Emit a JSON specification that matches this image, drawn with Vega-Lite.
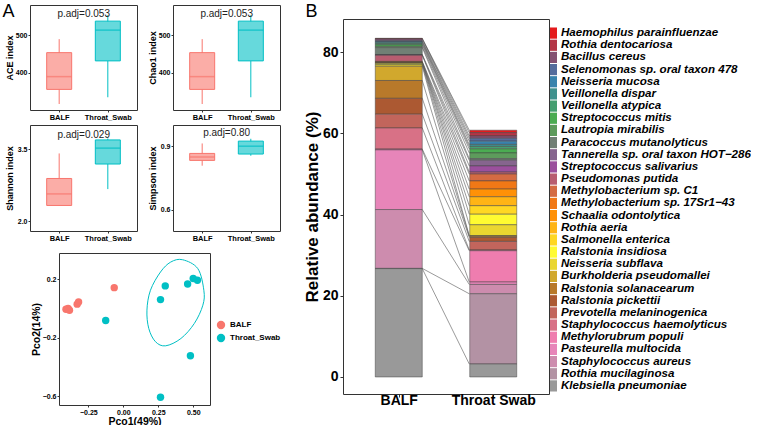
{
  "$schema": "https://vega.github.io/schema/vega-lite/v6.json",
  "padding": {"left": 1, "top": 1, "right": 0, "bottom": 0},
  "spacing": 21,
  "resolve": {"scale": {"fill": "independent", "color": "independent", "stroke": "independent"}, "legend": {"fill": "independent", "color": "independent"}},
  "config": {
    "font": "Liberation Sans",
    "view": {"stroke": "#333", "strokeWidth": 1},
    "axis": {"grid": false, "domain": false, "labelFontWeight": "bold", "titleFontWeight": "bold", "labelColor": "#000", "titleColor": "#000", "tickColor": "#333"},
    "legend": {"labelColor": "#000"},
    "title": {"color": "#000"}
  },
  "datasets": {
    "box": [
      {"metric": "ACE", "group": "BALF", "lower": 316, "q1": 355, "median": 389, "q3": 453, "upper": 489},
      {"metric": "ACE", "group": "Throat_Swab", "lower": 334, "q1": 431, "median": 513, "q3": 537, "upper": 553},
      {"metric": "Chao1", "group": "BALF", "lower": 316, "q1": 355, "median": 389, "q3": 453, "upper": 489},
      {"metric": "Chao1", "group": "Throat_Swab", "lower": 334, "q1": 431, "median": 513, "q3": 537, "upper": 553},
      {"metric": "Shannon", "group": "BALF", "lower": 2.33, "q1": 2.33, "median": 2.57, "q3": 2.89, "upper": 3.41},
      {"metric": "Shannon", "group": "Throat_Swab", "lower": 2.67, "q1": 3.19, "median": 3.52, "q3": 3.69, "upper": 3.72},
      {"metric": "Simpson", "group": "BALF", "lower": 0.808, "q1": 0.833, "median": 0.849, "q3": 0.866, "upper": 0.913},
      {"metric": "Simpson", "group": "Throat_Swab", "lower": 0.855, "q1": 0.863, "median": 0.9, "q3": 0.924, "upper": 0.935}
    ],
    "pcoa": [
      {"group": "BALF", "pco1": -0.41, "pco2": -0.005},
      {"group": "BALF", "pco1": -0.395, "pco2": 0.0},
      {"group": "BALF", "pco1": -0.385, "pco2": -0.012},
      {"group": "BALF", "pco1": -0.33, "pco2": 0.03},
      {"group": "BALF", "pco1": -0.32, "pco2": 0.045},
      {"group": "BALF", "pco1": -0.065, "pco2": 0.143},
      {"group": "Throat_Swab", "pco1": -0.126, "pco2": -0.082},
      {"group": "Throat_Swab", "pco1": 0.266, "pco2": 0.061},
      {"group": "Throat_Swab", "pco1": 0.3, "pco2": 0.155},
      {"group": "Throat_Swab", "pco1": 0.46, "pco2": 0.168},
      {"group": "Throat_Swab", "pco1": 0.5, "pco2": 0.205},
      {"group": "Throat_Swab", "pco1": 0.53, "pco2": 0.193},
      {"group": "Throat_Swab", "pco1": 0.48, "pco2": -0.323},
      {"group": "Throat_Swab", "pco1": 0.266, "pco2": -0.607}
    ],
    "ellipse": [
      {"i": 1, "pco1": 0.424, "pco2": 0.334},
      {"i": 2, "pco1": 0.533, "pco2": 0.273},
      {"i": 3, "pco1": 0.576, "pco2": 0.125},
      {"i": 4, "pco1": 0.569, "pco2": 0.023},
      {"i": 5, "pco1": 0.508, "pco2": -0.102},
      {"i": 6, "pco1": 0.412, "pco2": -0.205},
      {"i": 7, "pco1": 0.303, "pco2": -0.255},
      {"i": 8, "pco1": 0.23, "pco2": -0.227},
      {"i": 9, "pco1": 0.182, "pco2": -0.136},
      {"i": 10, "pco1": 0.169, "pco2": -0.011},
      {"i": 11, "pco1": 0.194, "pco2": 0.125},
      {"i": 12, "pco1": 0.266, "pco2": 0.25},
      {"i": 13, "pco1": 0.339, "pco2": 0.318}
    ],
    "species": [
      {"species": "Haemophilus parainfluenzae"}, {"species": "Rothia dentocariosa"}, {"species": "Bacillus cereus"}, {"species": "Selenomonas sp. oral taxon 478"}, {"species": "Neisseria mucosa"}, {"species": "Veillonella dispar"}, {"species": "Veillonella atypica"}, {"species": "Streptococcus mitis"}, {"species": "Lautropia mirabilis"}, {"species": "Paracoccus mutanolyticus"}, {"species": "Tannerella sp. oral taxon HOT−286"}, {"species": "Streptococcus salivarius"}, {"species": "Pseudomonas putida"}, {"species": "Methylobacterium sp. C1"}, {"species": "Methylobacterium sp. 17Sr1−43"}, {"species": "Schaalia odontolytica"}, {"species": "Rothia aeria"}, {"species": "Salmonella enterica"}, {"species": "Ralstonia insidiosa"}, {"species": "Neisseria subflava"}, {"species": "Burkholderia pseudomallei"}, {"species": "Ralstonia solanacearum"}, {"species": "Ralstonia pickettii"}, {"species": "Prevotella melaninogenica"}, {"species": "Staphylococcus haemolyticus"}, {"species": "Methylorubrum populi"}, {"species": "Pasteurella multocida"}, {"species": "Staphylococcus aureus"}, {"species": "Rothia mucilaginosa"}, {"species": "Klebsiella pneumoniae"}
    ],
    "abund": [
      {"species": "Haemophilus parainfluenzae", "idx": 0, "sample": "BALF", "value": 0.1},
      {"species": "Rothia dentocariosa", "idx": 1, "sample": "BALF", "value": 0.1},
      {"species": "Bacillus cereus", "idx": 2, "sample": "BALF", "value": 0.4},
      {"species": "Selenomonas sp. oral taxon 478", "idx": 3, "sample": "BALF", "value": 0.2},
      {"species": "Neisseria mucosa", "idx": 4, "sample": "BALF", "value": 0.2},
      {"species": "Veillonella dispar", "idx": 5, "sample": "BALF", "value": 0.3},
      {"species": "Veillonella atypica", "idx": 6, "sample": "BALF", "value": 0.3},
      {"species": "Streptococcus mitis", "idx": 7, "sample": "BALF", "value": 0.4},
      {"species": "Lautropia mirabilis", "idx": 8, "sample": "BALF", "value": 0.3},
      {"species": "Paracoccus mutanolyticus", "idx": 9, "sample": "BALF", "value": 1.7},
      {"species": "Tannerella sp. oral taxon HOT−286", "idx": 10, "sample": "BALF", "value": 0.1},
      {"species": "Streptococcus salivarius", "idx": 11, "sample": "BALF", "value": 0.1},
      {"species": "Pseudomonas putida", "idx": 12, "sample": "BALF", "value": 1.5},
      {"species": "Methylobacterium sp. C1", "idx": 13, "sample": "BALF", "value": 0.1},
      {"species": "Methylobacterium sp. 17Sr1−43", "idx": 14, "sample": "BALF", "value": 0.1},
      {"species": "Schaalia odontolytica", "idx": 15, "sample": "BALF", "value": 0.1},
      {"species": "Rothia aeria", "idx": 16, "sample": "BALF", "value": 0.1},
      {"species": "Salmonella enterica", "idx": 17, "sample": "BALF", "value": 0.1},
      {"species": "Ralstonia insidiosa", "idx": 18, "sample": "BALF", "value": 0.3},
      {"species": "Neisseria subflava", "idx": 19, "sample": "BALF", "value": 0.4},
      {"species": "Burkholderia pseudomallei", "idx": 20, "sample": "BALF", "value": 3.5},
      {"species": "Ralstonia solanacearum", "idx": 21, "sample": "BALF", "value": 4.4},
      {"species": "Ralstonia pickettii", "idx": 22, "sample": "BALF", "value": 3.9},
      {"species": "Prevotella melaninogenica", "idx": 23, "sample": "BALF", "value": 3.4},
      {"species": "Staphylococcus haemolyticus", "idx": 24, "sample": "BALF", "value": 5.2},
      {"species": "Methylorubrum populi", "idx": 25, "sample": "BALF", "value": 0.2},
      {"species": "Pasteurella multocida", "idx": 26, "sample": "BALF", "value": 14.7},
      {"species": "Staphylococcus aureus", "idx": 27, "sample": "BALF", "value": 14.5},
      {"species": "Rothia mucilaginosa", "idx": 28, "sample": "BALF", "value": 0.05},
      {"species": "Klebsiella pneumoniae", "idx": 29, "sample": "BALF", "value": 26.7},
      {"species": "Haemophilus parainfluenzae", "idx": 0, "sample": "Throat Swab", "value": 0.6},
      {"species": "Rothia dentocariosa", "idx": 1, "sample": "Throat Swab", "value": 0.8},
      {"species": "Bacillus cereus", "idx": 2, "sample": "Throat Swab", "value": 0.6},
      {"species": "Selenomonas sp. oral taxon 478", "idx": 3, "sample": "Throat Swab", "value": 0.7},
      {"species": "Neisseria mucosa", "idx": 4, "sample": "Throat Swab", "value": 0.8},
      {"species": "Veillonella dispar", "idx": 5, "sample": "Throat Swab", "value": 0.5},
      {"species": "Veillonella atypica", "idx": 6, "sample": "Throat Swab", "value": 0.6},
      {"species": "Streptococcus mitis", "idx": 7, "sample": "Throat Swab", "value": 1.0},
      {"species": "Lautropia mirabilis", "idx": 8, "sample": "Throat Swab", "value": 1.4},
      {"species": "Paracoccus mutanolyticus", "idx": 9, "sample": "Throat Swab", "value": 0.4},
      {"species": "Tannerella sp. oral taxon HOT−286", "idx": 10, "sample": "Throat Swab", "value": 1.4},
      {"species": "Streptococcus salivarius", "idx": 11, "sample": "Throat Swab", "value": 1.5},
      {"species": "Pseudomonas putida", "idx": 12, "sample": "Throat Swab", "value": 0.5},
      {"species": "Methylobacterium sp. C1", "idx": 13, "sample": "Throat Swab", "value": 1.7},
      {"species": "Methylobacterium sp. 17Sr1−43", "idx": 14, "sample": "Throat Swab", "value": 2.0},
      {"species": "Schaalia odontolytica", "idx": 15, "sample": "Throat Swab", "value": 1.9},
      {"species": "Rothia aeria", "idx": 16, "sample": "Throat Swab", "value": 2.2},
      {"species": "Salmonella enterica", "idx": 17, "sample": "Throat Swab", "value": 2.1},
      {"species": "Ralstonia insidiosa", "idx": 18, "sample": "Throat Swab", "value": 2.6},
      {"species": "Neisseria subflava", "idx": 19, "sample": "Throat Swab", "value": 2.7},
      {"species": "Burkholderia pseudomallei", "idx": 20, "sample": "Throat Swab", "value": 0.1},
      {"species": "Ralstonia solanacearum", "idx": 21, "sample": "Throat Swab", "value": 0.3},
      {"species": "Ralstonia pickettii", "idx": 22, "sample": "Throat Swab", "value": 1.0},
      {"species": "Prevotella melaninogenica", "idx": 23, "sample": "Throat Swab", "value": 2.1},
      {"species": "Staphylococcus haemolyticus", "idx": 24, "sample": "Throat Swab", "value": 0.2},
      {"species": "Methylorubrum populi", "idx": 25, "sample": "Throat Swab", "value": 7.7},
      {"species": "Pasteurella multocida", "idx": 26, "sample": "Throat Swab", "value": 0.6},
      {"species": "Staphylococcus aureus", "idx": 27, "sample": "Throat Swab", "value": 2.3},
      {"species": "Rothia mucilaginosa", "idx": 28, "sample": "Throat Swab", "value": 17.3},
      {"species": "Klebsiella pneumoniae", "idx": 29, "sample": "Throat Swab", "value": 3.2}
    ]
  },
  "hconcat": [
    {
      "spacing": 9,
      "resolve": {"scale": {"color": "independent"}, "legend": {"color": "independent"}},
      "vconcat": [
        {
          "spacing": 2,
          "vconcat": [
            {
              "bounds": "flush",
              "spacing": 36,
              "hconcat": [
                {
                  "width": 107, "height": 105,
                  "encoding": {"x": {"field": "group", "type": "nominal", "scale": {"type": "point", "padding": 0.6}, "axis": {"title": "A", "titleX": -28, "titleY": -94, "titleAlign": "left", "titleBaseline": "alphabetic", "titleAngle": 0, "titleFontSize": 18, "titleFontWeight": "normal", "labelAngle": 0, "labelFontSize": 7.5, "tickSize": 2, "labelPadding": 1, "minExtent": 11, "maxExtent": 11}}},
                  "layer": [
                    {"data": {"name": "box"}, "transform": [{"filter": "datum.metric === 'ACE'"}], "mark": {"type": "rule", "strokeWidth": 1}, "encoding": {"y": {"field": "lower", "type": "quantitative", "scale": {"domain": [303, 576]}, "axis": {"title": "ACE index", "values": [400, 500], "titleFontSize": 9, "labelFontSize": 7, "tickSize": 2, "labelPadding": 1, "titlePadding": 2, "minExtent": 14, "maxExtent": 14}}, "y2": {"field": "upper"}, "stroke": {"field": "group", "type": "nominal", "scale": {"domain": ["BALF", "Throat_Swab"], "range": ["#F8766D", "#00BFC4"]}, "legend": null}}},
                    {"data": {"name": "box"}, "transform": [{"filter": "datum.metric === 'ACE'"}], "mark": {"type": "bar", "size": 25, "strokeWidth": 1}, "encoding": {"y": {"field": "q1", "type": "quantitative"}, "y2": {"field": "q3"}, "fill": {"field": "group", "type": "nominal", "scale": {"domain": ["BALF", "Throat_Swab"], "range": ["#FBADA7", "#66D9DC"]}, "legend": null}, "stroke": {"field": "group", "type": "nominal", "legend": null}}},
                    {"data": {"name": "box"}, "transform": [{"filter": "datum.metric === 'ACE'"}], "mark": {"type": "tick", "size": 25, "thickness": 1.5}, "encoding": {"y": {"field": "median", "type": "quantitative"}, "color": {"field": "group", "type": "nominal", "scale": {"domain": ["BALF", "Throat_Swab"], "range": ["#F8766D", "#00BFC4"]}, "legend": null}}},
                    {"data": {"values": [{"label": "p.adj=0.053"}]}, "mark": {"type": "text", "dx": 24.5, "fontSize": 10, "baseline": "alphabetic", "align": "center", "color": "#222"}, "encoding": {"x": {"datum": "BALF", "type": "nominal"}, "y": {"datum": 548, "type": "quantitative"}, "text": {"field": "label"}}}
                  ]
                },
                {
                  "width": 107, "height": 105,
                  "encoding": {"x": {"field": "group", "type": "nominal", "scale": {"type": "point", "padding": 0.6}, "axis": {"title": null, "labelAngle": 0, "labelFontSize": 7.5, "tickSize": 2, "labelPadding": 1, "minExtent": 11, "maxExtent": 11}}},
                  "layer": [
                    {"data": {"name": "box"}, "transform": [{"filter": "datum.metric === 'Chao1'"}], "mark": {"type": "rule", "strokeWidth": 1}, "encoding": {"y": {"field": "lower", "type": "quantitative", "scale": {"domain": [303, 576]}, "axis": {"title": "Chao1 index", "values": [400, 500], "titleFontSize": 9, "labelFontSize": 7, "tickSize": 2, "labelPadding": 1, "titlePadding": 2, "minExtent": 14, "maxExtent": 14}}, "y2": {"field": "upper"}, "stroke": {"field": "group", "type": "nominal", "scale": {"domain": ["BALF", "Throat_Swab"], "range": ["#F8766D", "#00BFC4"]}, "legend": null}}},
                    {"data": {"name": "box"}, "transform": [{"filter": "datum.metric === 'Chao1'"}], "mark": {"type": "bar", "size": 25, "strokeWidth": 1}, "encoding": {"y": {"field": "q1", "type": "quantitative"}, "y2": {"field": "q3"}, "fill": {"field": "group", "type": "nominal", "scale": {"domain": ["BALF", "Throat_Swab"], "range": ["#FBADA7", "#66D9DC"]}, "legend": null}, "stroke": {"field": "group", "type": "nominal", "legend": null}}},
                    {"data": {"name": "box"}, "transform": [{"filter": "datum.metric === 'Chao1'"}], "mark": {"type": "tick", "size": 25, "thickness": 1.5}, "encoding": {"y": {"field": "median", "type": "quantitative"}, "color": {"field": "group", "type": "nominal", "scale": {"domain": ["BALF", "Throat_Swab"], "range": ["#F8766D", "#00BFC4"]}, "legend": null}}},
                    {"data": {"values": [{"label": "p.adj=0.053"}]}, "mark": {"type": "text", "dx": 24.5, "fontSize": 10, "baseline": "alphabetic", "align": "center", "color": "#222"}, "encoding": {"x": {"datum": "BALF", "type": "nominal"}, "y": {"datum": 548, "type": "quantitative"}, "text": {"field": "label"}}}
                  ]
                }
              ]
            },
            {
              "bounds": "flush",
              "spacing": 36,
              "hconcat": [
                {
                  "width": 107, "height": 106,
                  "encoding": {"x": {"field": "group", "type": "nominal", "scale": {"type": "point", "padding": 0.6}, "axis": {"title": null, "labelAngle": 0, "labelFontSize": 7.5, "tickSize": 2, "labelPadding": 1, "minExtent": 11, "maxExtent": 11}}},
                  "layer": [
                    {"data": {"name": "box"}, "transform": [{"filter": "datum.metric === 'Shannon'"}], "mark": {"type": "rule", "strokeWidth": 1}, "encoding": {"y": {"field": "lower", "type": "quantitative", "scale": {"domain": [1.93, 3.89]}, "axis": {"title": "Shannon index", "values": [2.0, 2.5, 3.0, 3.5], "format": ".1f", "titleFontSize": 9, "labelFontSize": 7, "tickSize": 2, "labelPadding": 1, "titlePadding": 2, "minExtent": 14, "maxExtent": 14}}, "y2": {"field": "upper"}, "stroke": {"field": "group", "type": "nominal", "scale": {"domain": ["BALF", "Throat_Swab"], "range": ["#F8766D", "#00BFC4"]}, "legend": null}}},
                    {"data": {"name": "box"}, "transform": [{"filter": "datum.metric === 'Shannon'"}], "mark": {"type": "bar", "size": 25, "strokeWidth": 1}, "encoding": {"y": {"field": "q1", "type": "quantitative"}, "y2": {"field": "q3"}, "fill": {"field": "group", "type": "nominal", "scale": {"domain": ["BALF", "Throat_Swab"], "range": ["#FBADA7", "#66D9DC"]}, "legend": null}, "stroke": {"field": "group", "type": "nominal", "legend": null}}},
                    {"data": {"name": "box"}, "transform": [{"filter": "datum.metric === 'Shannon'"}], "mark": {"type": "tick", "size": 25, "thickness": 1.5}, "encoding": {"y": {"field": "median", "type": "quantitative"}, "color": {"field": "group", "type": "nominal", "scale": {"domain": ["BALF", "Throat_Swab"], "range": ["#F8766D", "#00BFC4"]}, "legend": null}}},
                    {"data": {"values": [{"label": "p.adj=0.029"}]}, "mark": {"type": "text", "dx": 24.5, "fontSize": 10, "baseline": "alphabetic", "align": "center", "color": "#222"}, "encoding": {"x": {"datum": "BALF", "type": "nominal"}, "y": {"datum": 3.74, "type": "quantitative"}, "text": {"field": "label"}}}
                  ]
                },
                {
                  "width": 107, "height": 106,
                  "encoding": {"x": {"field": "group", "type": "nominal", "scale": {"type": "point", "padding": 0.6}, "axis": {"title": null, "labelAngle": 0, "labelFontSize": 7.5, "tickSize": 2, "labelPadding": 1, "minExtent": 11, "maxExtent": 11}}},
                  "layer": [
                    {"data": {"name": "box"}, "transform": [{"filter": "datum.metric === 'Simpson'"}], "mark": {"type": "rule", "strokeWidth": 1}, "encoding": {"y": {"field": "lower", "type": "quantitative", "scale": {"domain": [0.537, 0.984]}, "axis": {"title": "Simpson index", "values": [0.6, 0.7, 0.8, 0.9], "format": ".1f", "titleFontSize": 9, "labelFontSize": 7, "tickSize": 2, "labelPadding": 1, "titlePadding": 2, "minExtent": 14, "maxExtent": 14}}, "y2": {"field": "upper"}, "stroke": {"field": "group", "type": "nominal", "scale": {"domain": ["BALF", "Throat_Swab"], "range": ["#F8766D", "#00BFC4"]}, "legend": null}}},
                    {"data": {"name": "box"}, "transform": [{"filter": "datum.metric === 'Simpson'"}], "mark": {"type": "bar", "size": 25, "strokeWidth": 1}, "encoding": {"y": {"field": "q1", "type": "quantitative"}, "y2": {"field": "q3"}, "fill": {"field": "group", "type": "nominal", "scale": {"domain": ["BALF", "Throat_Swab"], "range": ["#FBADA7", "#66D9DC"]}, "legend": null}, "stroke": {"field": "group", "type": "nominal", "legend": null}}},
                    {"data": {"name": "box"}, "transform": [{"filter": "datum.metric === 'Simpson'"}], "mark": {"type": "tick", "size": 25, "thickness": 1.5}, "encoding": {"y": {"field": "median", "type": "quantitative"}, "color": {"field": "group", "type": "nominal", "scale": {"domain": ["BALF", "Throat_Swab"], "range": ["#F8766D", "#00BFC4"]}, "legend": null}}},
                    {"data": {"values": [{"label": "p.adj=0.80"}]}, "mark": {"type": "text", "dx": 24.5, "fontSize": 10, "baseline": "alphabetic", "align": "center", "color": "#222"}, "encoding": {"x": {"datum": "BALF", "type": "nominal"}, "y": {"datum": 0.95, "type": "quantitative"}, "text": {"field": "label"}}}
                  ]
                }
              ]
            }
          ]
        },
        {
          "bounds": "flush",
          "spacing": 28,
          "hconcat": [
            {"width": 1, "height": 1, "view": {"stroke": null}, "data": {"values": []}, "mark": "point"},
            {
              "width": 151, "height": 152,
              "layer": [
                {
                  "data": {"name": "ellipse"},
                  "mark": {"type": "line", "interpolate": "cardinal-closed", "color": "#00BFC4", "strokeWidth": 1},
                  "encoding": {
                    "x": {"field": "pco1", "type": "quantitative"},
                    "y": {"field": "pco2", "type": "quantitative"},
                    "order": {"field": "i"}
                  }
                },
                {
                  "data": {"name": "pcoa"},
                  "mark": {"type": "circle", "size": 55, "opacity": 1},
                  "encoding": {
                    "x": {"field": "pco1", "type": "quantitative", "scale": {"domain": [-0.46, 0.62], "nice": false, "zero": false}, "axis": {"title": "Pco1(49%)", "values": [-0.25, 0, 0.25, 0.5], "format": ".2f", "titleFontSize": 10.5, "labelFontSize": 7, "tickSize": 2, "labelPadding": 1, "titlePadding": 1}},
                    "y": {"field": "pco2", "type": "quantitative", "scale": {"domain": [-0.66, 0.38], "nice": false, "zero": false}, "axis": {"title": "Pco2(14%)", "values": [-0.6, -0.4, -0.2, 0, 0.2], "format": ".1f", "titleFontSize": 10.5, "labelFontSize": 7, "tickSize": 2, "labelPadding": 1, "titlePadding": 1, "minExtent": 17, "maxExtent": 17}},
                    "color": {"field": "group", "type": "nominal", "scale": {"domain": ["BALF", "Throat_Swab"], "range": ["#F8766D", "#00BFC4"]}, "legend": {"title": null, "orient": "none", "legendX": 186, "legendY": 67, "padding": 0, "labelFontSize": 8, "labelFontWeight": "bold", "symbolSize": 70, "symbolType": "circle", "rowPadding": 3, "labelOffset": 4}}
                  }
                }
              ]
            }
          ]
        }
      ]
    },
    {
      "spacing": 0,
      "hconcat": [
        {
          "bounds": "flush",
          "spacing": 13,
          "vconcat": [
            {"width": 1, "height": 1, "view": {"stroke": null}, "data": {"values": []}, "mark": "point"},
            {
              "width": 206, "height": 375,
              "data": {"name": "abund"},
              "transform": [{"stack": "value", "groupby": ["sample"], "sort": [{"field": "idx", "order": "descending"}], "as": ["y0", "y1"]}],
              "layer": [
                {
                  "transform": [{"pivot": "sample", "value": "y1", "groupby": ["species"]}],
                  "mark": {"type": "rule", "color": "#555", "strokeWidth": 0.6, "xOffset": 23.5, "x2Offset": -24},
                  "encoding": {
                    "x": {"datum": "BALF", "type": "nominal"},
                    "x2": {"datum": "Throat Swab"},
                    "y": {"field": "BALF", "type": "quantitative"},
                    "y2": {"field": "Throat Swab"}
                  }
                },
                {
                  "mark": {"type": "bar", "size": 47, "stroke": "#444", "strokeWidth": 0.5},
                  "encoding": {
                    "x": {"field": "sample", "type": "nominal", "scale": {"type": "point", "padding": 0.59}, "axis": {"title": "B", "titleX": -38, "titleY": -378, "titleAlign": "left", "titleBaseline": "alphabetic", "titleAngle": 0, "titleFontSize": 18, "titleFontWeight": "normal", "labelAngle": 0, "labelAlign": "center", "labelFontSize": 14, "tickSize": 3, "labelPadding": 3}},
                    "y": {"field": "y0", "type": "quantitative", "scale": {"domain": [-4.2, 88.2], "nice": false, "zero": false}, "axis": {"title": "Relative abundance (%)", "values": [0, 20, 40, 60, 80], "labelFontSize": 14, "titleFontSize": 17, "tickSize": 3, "labelPadding": 2, "titlePadding": 1, "minExtent": 21, "maxExtent": 21}},
                    "y2": {"field": "y1"},
                    "fill": {
                      "field": "species", "type": "nominal",
                      "scale": {
                        "domain": ["Haemophilus parainfluenzae", "Rothia dentocariosa", "Bacillus cereus", "Selenomonas sp. oral taxon 478", "Neisseria mucosa", "Veillonella dispar", "Veillonella atypica", "Streptococcus mitis", "Lautropia mirabilis", "Paracoccus mutanolyticus", "Tannerella sp. oral taxon HOT−286", "Streptococcus salivarius", "Pseudomonas putida", "Methylobacterium sp. C1", "Methylobacterium sp. 17Sr1−43", "Schaalia odontolytica", "Rothia aeria", "Salmonella enterica", "Ralstonia insidiosa", "Neisseria subflava", "Burkholderia pseudomallei", "Ralstonia solanacearum", "Ralstonia pickettii", "Prevotella melaninogenica", "Staphylococcus haemolyticus", "Methylorubrum populi", "Pasteurella multocida", "Staphylococcus aureus", "Rothia mucilaginosa", "Klebsiella pneumoniae"],
                        "range": ["#E41A1C", "#B43647", "#845172", "#556D9D", "#3983AD", "#3F918E", "#459E70", "#4BAC52", "#5D9B5C", "#718075", "#86658E", "#9B509D", "#B85D70", "#D46B43", "#F17816", "#FF9107", "#FFB415", "#FFD723", "#FFFB31", "#EAD630", "#D1A82D", "#B8792A", "#AC5932", "#C2655C", "#D87186", "#EF7DAF", "#E785B9", "#CD8CAE", "#B392A4", "#999999"]
                      },
                      "legend": null
                    }
                  }
                }
              ]
            }
          ]
        },
        {
          "bounds": "flush",
          "spacing": 21,
          "vconcat": [
            {"width": 1, "height": 1, "view": {"stroke": null}, "data": {"values": []}, "mark": "point"},
            {
              "width": 7, "height": 365,
              "view": {"stroke": null},
              "data": {"name": "species"},
              "encoding": {
                "y": {"field": "species", "type": "nominal", "scale": {"domain": ["Haemophilus parainfluenzae", "Rothia dentocariosa", "Bacillus cereus", "Selenomonas sp. oral taxon 478", "Neisseria mucosa", "Veillonella dispar", "Veillonella atypica", "Streptococcus mitis", "Lautropia mirabilis", "Paracoccus mutanolyticus", "Tannerella sp. oral taxon HOT−286", "Streptococcus salivarius", "Pseudomonas putida", "Methylobacterium sp. C1", "Methylobacterium sp. 17Sr1−43", "Schaalia odontolytica", "Rothia aeria", "Salmonella enterica", "Ralstonia insidiosa", "Neisseria subflava", "Burkholderia pseudomallei", "Ralstonia solanacearum", "Ralstonia pickettii", "Prevotella melaninogenica", "Staphylococcus haemolyticus", "Methylorubrum populi", "Pasteurella multocida", "Staphylococcus aureus", "Rothia mucilaginosa", "Klebsiella pneumoniae"], "paddingInner": 0.08, "paddingOuter": 0.04}, "axis": null}
              },
              "layer": [
                {
                  "mark": {"type": "bar"},
                  "encoding": {
                    "fill": {
                      "field": "species", "type": "nominal", "legend": null,
                      "scale": {
                        "domain": ["Haemophilus parainfluenzae", "Rothia dentocariosa", "Bacillus cereus", "Selenomonas sp. oral taxon 478", "Neisseria mucosa", "Veillonella dispar", "Veillonella atypica", "Streptococcus mitis", "Lautropia mirabilis", "Paracoccus mutanolyticus", "Tannerella sp. oral taxon HOT−286", "Streptococcus salivarius", "Pseudomonas putida", "Methylobacterium sp. C1", "Methylobacterium sp. 17Sr1−43", "Schaalia odontolytica", "Rothia aeria", "Salmonella enterica", "Ralstonia insidiosa", "Neisseria subflava", "Burkholderia pseudomallei", "Ralstonia solanacearum", "Ralstonia pickettii", "Prevotella melaninogenica", "Staphylococcus haemolyticus", "Methylorubrum populi", "Pasteurella multocida", "Staphylococcus aureus", "Rothia mucilaginosa", "Klebsiella pneumoniae"],
                        "range": ["#E41A1C", "#B43647", "#845172", "#556D9D", "#3983AD", "#3F918E", "#459E70", "#4BAC52", "#5D9B5C", "#718075", "#86658E", "#9B509D", "#B85D70", "#D46B43", "#F17816", "#FF9107", "#FFB415", "#FFD723", "#FFFB31", "#EAD630", "#D1A82D", "#B8792A", "#AC5932", "#C2655C", "#D87186", "#EF7DAF", "#E785B9", "#CD8CAE", "#B392A4", "#999999"]
                      }
                    }
                  }
                },
                {
                  "mark": {"type": "text", "align": "left", "baseline": "middle", "dx": 7.5, "fontSize": 11.6, "fontStyle": "italic", "fontWeight": "bold", "color": "#000"},
                  "encoding": {"text": {"field": "species", "type": "nominal"}}
                }
              ]
            }
          ]
        }
      ]
    }
  ]
}
